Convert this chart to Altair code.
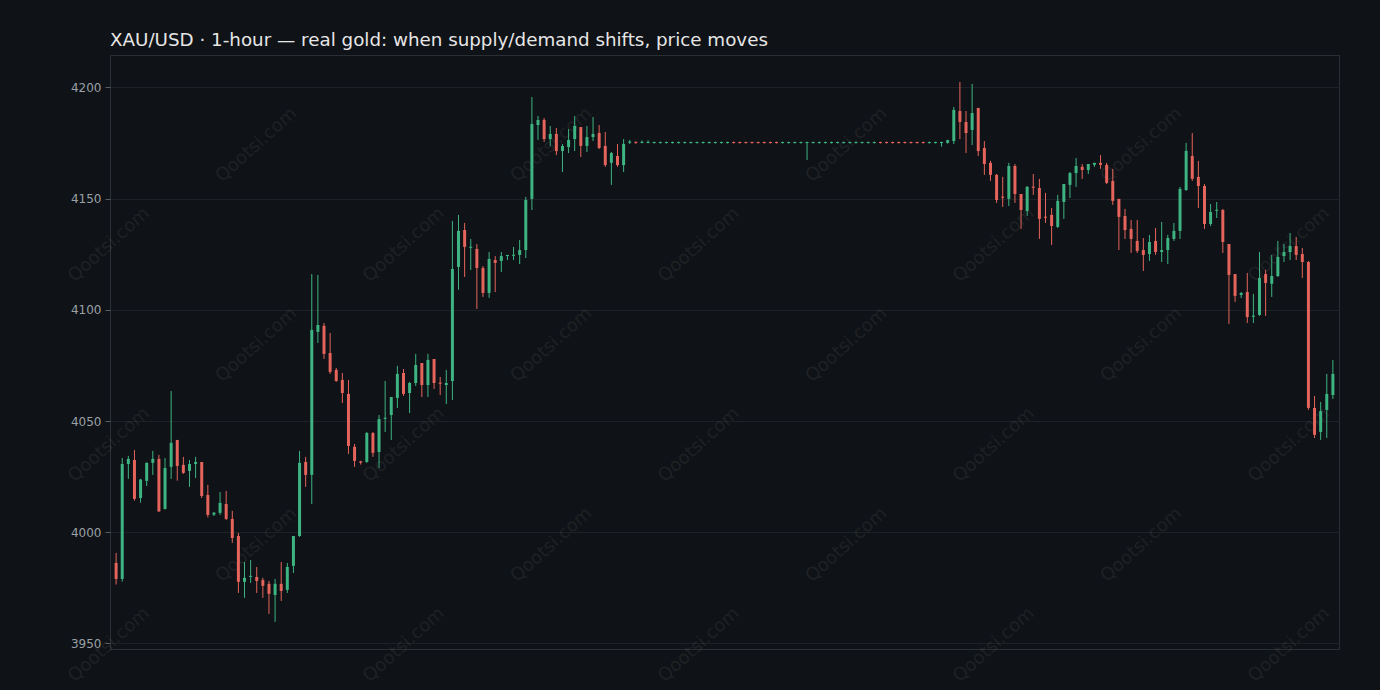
import altair as alt
import pandas as pd
import numpy as np

TITLE = "XAU/USD · 1-hour — real gold: when supply/demand shifts, price moves"
Y_TICKS = [3950, 4000, 4050, 4100, 4150, 4200]
WATERMARK = "Qootsi.com"

opens = [
    3986.2, 3979.0, 4030.7, 4032.5, 4015.4, 4023.1, 4031.2, 4033.0, 4010.5, 4029.4,
    4041.5, 4030.3, 4027.6, 4030.7, 4031.6, 4016.8, 4007.9, 4008.7, 4012.7, 4006.0,
    3998.3, 3977.7, 3980.0, 3979.9, 3978.5, 3976.8, 3971.8, 3976.8, 3974.1, 3984.9,
    3998.3, 4031.6, 4025.8, 4090.1, 4092.8, 4080.6, 4073.0, 4068.5, 4062.2, 4038.4,
    4031.9, 4031.6, 4044.6, 4036.1, 4051.1, 4052.7, 4060.4, 4071.6, 4062.6, 4067.1,
    4076.1, 4066.2, 4077.9, 4067.3, 4066.2, 4068.0, 4119.3, 4135.9, 4128.0, 4127.4,
    4118.8, 4107.6, 4122.4, 4122.0, 4124.4, 4124.4, 4124.7, 4126.9, 4149.9, 4183.1,
    4185.4, 4176.8, 4179.1, 4171.4, 4173.2, 4176.8, 4182.2, 4173.7, 4177.7, 4179.5,
    4173.7, 4166.1, 4169.2, 4165.1, 4175.3, 4175.5, 4175.1, 4175.1, 4175.1, 4175.1,
    4175.1, 4175.1, 4175.1, 4175.1, 4175.1, 4175.1, 4175.1, 4175.1, 4175.1, 4175.1,
    4175.1, 4175.4, 4175.4, 4175.4, 4175.4, 4175.4, 4175.4, 4175.4, 4175.4, 4175.1,
    4175.1, 4175.1, 4175.1, 4175.1, 4175.1, 4175.1, 4175.1, 4175.1, 4175.1, 4175.1,
    4175.1, 4175.1, 4175.1, 4175.1, 4175.1, 4175.4, 4175.4, 4175.4, 4175.4, 4175.4,
    4175.4, 4175.4, 4175.4, 4175.1, 4175.1, 4175.1, 4175.1, 4175.9, 4189.4, 4184.5,
    4180.9, 4190.8, 4172.8, 4166.1, 4160.7, 4150.8, 4149.9, 4164.7, 4152.1, 4144.5,
    4155.3, 4154.8, 4141.8, 4142.7, 4137.3, 4148.5, 4156.2, 4161.5, 4164.3, 4162.9,
    4165.2, 4166.1, 4165.2, 4158.0, 4149.9, 4142.2, 4136.4, 4131.0, 4126.9, 4125.1,
    4131.0, 4126.0, 4126.9, 4131.9, 4135.5, 4153.9, 4169.2, 4159.8, 4155.7, 4138.6,
    4144.6, 4144.9, 4129.6, 4116.1, 4106.7, 4108.0, 4097.0, 4097.7, 4116.1, 4111.7,
    4115.2, 4124.2, 4126.0, 4128.7, 4125.1, 4121.5, 4055.9, 4045.1, 4055.0, 4061.7,
]

highs = [
    3990.7, 4033.4, 4034.3, 4037.0, 4024.0, 4031.4, 4036.6, 4034.8, 4033.4, 4063.5,
    4041.5, 4033.9, 4032.5, 4033.9, 4031.6, 4021.3, 4009.1, 4018.1, 4018.6, 4009.6,
    3999.7, 3986.6, 3987.5, 3984.4, 3979.5, 3978.1, 3979.0, 3986.6, 3986.2, 3998.3,
    4036.6, 4033.9, 4116.1, 4115.7, 4094.1, 4089.6, 4073.9, 4071.6, 4068.5, 4039.7,
    4032.1, 4045.1, 4045.1, 4052.7, 4068.0, 4060.8, 4074.8, 4073.4, 4067.6, 4080.2,
    4076.1, 4080.2, 4077.9, 4069.8, 4073.0, 4140.0, 4142.7, 4139.1, 4131.9, 4129.6,
    4119.7, 4126.0, 4124.2, 4126.0, 4124.7, 4128.3, 4131.4, 4150.8, 4195.7, 4187.2,
    4186.3, 4182.7, 4181.8, 4174.6, 4181.3, 4187.2, 4182.2, 4182.7, 4186.7, 4183.1,
    4180.0, 4171.0, 4174.6, 4176.8, 4176.4, 4175.6, 4176.2, 4176.2, 4175.6, 4175.6,
    4175.6, 4175.6, 4175.6, 4175.6, 4175.6, 4175.6, 4175.6, 4175.6, 4175.6, 4175.6,
    4175.6, 4175.6, 4175.6, 4175.6, 4175.6, 4175.6, 4175.6, 4175.6, 4175.6, 4175.6,
    4175.6, 4175.6, 4175.6, 4175.6, 4175.6, 4175.6, 4175.6, 4175.6, 4175.6, 4175.6,
    4175.6, 4175.6, 4175.6, 4175.6, 4175.6, 4175.6, 4175.6, 4175.6, 4175.6, 4175.6,
    4175.6, 4175.6, 4175.6, 4175.6, 4175.6, 4175.6, 4176.5, 4191.2, 4202.5, 4189.4,
    4201.6, 4190.8, 4175.9, 4167.0, 4161.1, 4159.8, 4166.1, 4165.6, 4152.1, 4155.7,
    4161.1, 4158.9, 4152.6, 4145.8, 4151.7, 4156.6, 4162.0, 4168.3, 4165.6, 4165.6,
    4166.1, 4169.6, 4166.1, 4163.4, 4149.9, 4145.4, 4140.4, 4140.4, 4132.3, 4133.7,
    4136.8, 4139.5, 4133.7, 4139.1, 4155.3, 4175.1, 4179.5, 4167.0, 4156.6, 4147.6,
    4148.5, 4145.4, 4129.6, 4116.1, 4108.0, 4116.6, 4107.2, 4126.0, 4117.9, 4124.7,
    4131.0, 4129.6, 4134.6, 4132.8, 4127.8, 4122.0, 4061.3, 4058.6, 4071.2, 4077.5,
]

lows = [
    3976.5, 3977.8, 4024.0, 4014.2, 4013.3, 4020.8, 4025.8, 4009.1, 4010.2, 4024.0,
    4023.2, 4026.2, 4020.4, 4024.4, 4015.4, 4006.7, 4007.3, 4007.8, 4005.5, 3995.2,
    3972.7, 3970.5, 3977.2, 3972.7, 3970.5, 3963.3, 3959.7, 3969.1, 3972.7, 3981.7,
    3997.9, 4020.4, 4012.7, 4085.1, 4077.9, 4071.2, 4067.6, 4058.1, 4035.2, 4029.4,
    4030.4, 4031.2, 4033.9, 4028.9, 4045.1, 4041.5, 4055.9, 4061.3, 4053.6, 4065.8,
    4060.8, 4060.8, 4064.4, 4061.7, 4057.7, 4059.5, 4109.0, 4114.8, 4117.9, 4100.4,
    4105.8, 4105.4, 4108.0, 4117.0, 4122.4, 4122.4, 4120.6, 4123.3, 4144.9, 4176.4,
    4175.5, 4173.7, 4169.6, 4162.0, 4170.5, 4171.4, 4168.7, 4171.0, 4175.9, 4172.3,
    4164.3, 4156.2, 4164.3, 4162.0, 4174.6, 4174.6, 4174.9, 4174.9, 4174.8, 4174.8,
    4174.8, 4174.8, 4174.8, 4174.8, 4174.8, 4174.8, 4174.8, 4174.8, 4174.8, 4174.8,
    4174.8, 4174.8, 4174.8, 4174.8, 4174.8, 4174.8, 4174.8, 4174.8, 4174.8, 4174.8,
    4174.8, 4174.8, 4174.8, 4167.4, 4174.8, 4174.8, 4174.8, 4174.8, 4174.8, 4174.8,
    4174.8, 4174.8, 4174.8, 4174.8, 4174.8, 4174.8, 4174.8, 4174.8, 4174.8, 4174.8,
    4174.8, 4174.8, 4174.8, 4174.8, 4174.8, 4173.4, 4174.7, 4174.6, 4176.8, 4170.5,
    4174.1, 4169.2, 4160.7, 4158.0, 4148.1, 4146.3, 4146.7, 4148.1, 4136.4, 4142.2,
    4151.7, 4131.9, 4139.1, 4129.2, 4136.8, 4140.9, 4150.3, 4155.3, 4158.9, 4161.1,
    4164.3, 4163.4, 4156.6, 4147.2, 4126.9, 4131.9, 4125.6, 4125.6, 4117.5, 4122.0,
    4124.7, 4121.5, 4120.6, 4131.0, 4131.9, 4153.5, 4158.0, 4145.8, 4136.4, 4137.7,
    4141.3, 4125.6, 4093.7, 4103.6, 4105.3, 4094.1, 4094.1, 4097.3, 4097.3, 4105.8,
    4114.8, 4121.5, 4122.4, 4122.4, 4114.3, 4055.0, 4042.4, 4041.5, 4042.4, 4059.9,
]

closes = [
    3979.0, 4030.7, 4033.0, 4015.0, 4023.7, 4031.2, 4033.0, 4009.4, 4028.9, 4040.2,
    4029.8, 4026.7, 4030.7, 4031.6, 4016.3, 4007.8, 4008.8, 4013.2, 4006.0, 3997.4,
    3977.7, 3979.5, 3980.3, 3978.1, 3975.9, 3972.3, 3976.8, 3973.6, 3984.4, 3998.3,
    4031.2, 4025.8, 4091.0, 4093.2, 4080.2, 4072.1, 4068.0, 4062.6, 4038.8, 4032.1,
    4031.3, 4044.6, 4035.7, 4050.9, 4051.4, 4060.8, 4071.2, 4062.2, 4067.1, 4075.2,
    4066.2, 4077.5, 4067.1, 4066.8, 4067.1, 4118.4, 4135.5, 4128.3, 4128.3, 4118.8,
    4107.6, 4122.9, 4121.1, 4124.2, 4124.5, 4124.7, 4126.9, 4149.4, 4183.6, 4185.4,
    4176.8, 4179.1, 4171.4, 4173.7, 4176.4, 4182.7, 4173.7, 4177.7, 4179.1, 4172.8,
    4165.1, 4170.5, 4165.1, 4174.6, 4175.5, 4175.2, 4175.5, 4175.5, 4175.4, 4175.4,
    4175.4, 4175.4, 4175.4, 4175.4, 4175.4, 4175.4, 4175.4, 4175.4, 4175.4, 4175.4,
    4175.4, 4175.1, 4175.1, 4175.1, 4175.1, 4175.1, 4175.1, 4175.1, 4175.1, 4175.4,
    4175.4, 4175.4, 4175.4, 4175.4, 4175.4, 4175.4, 4175.4, 4175.4, 4175.4, 4175.4,
    4175.4, 4175.4, 4175.4, 4175.4, 4175.4, 4175.1, 4175.1, 4175.1, 4175.1, 4175.1,
    4175.1, 4175.1, 4175.1, 4175.4, 4175.4, 4175.4, 4176.3, 4189.9, 4184.5, 4179.5,
    4188.5, 4171.4, 4165.6, 4160.7, 4149.4, 4150.5, 4164.7, 4152.1, 4144.9, 4155.3,
    4155.0, 4140.9, 4141.5, 4137.7, 4149.0, 4156.6, 4161.5, 4164.7, 4162.9, 4165.6,
    4166.1, 4165.2, 4157.1, 4149.0, 4141.8, 4135.9, 4131.9, 4126.5, 4124.7, 4130.5,
    4126.0, 4126.9, 4132.3, 4135.5, 4154.4, 4171.5, 4158.9, 4155.7, 4138.6, 4144.0,
    4144.9, 4130.5, 4115.7, 4106.3, 4107.6, 4096.8, 4097.3, 4114.3, 4112.1, 4115.2,
    4123.8, 4126.0, 4128.7, 4124.7, 4121.5, 4055.9, 4043.8, 4054.5, 4062.2, 4071.2,
]

GREEN = "#3db482"
RED = "#e5645b"
BG = "#0f1216"

n = len(opens)
df = pd.DataFrame({"i": np.arange(n), "open": opens, "high": highs, "low": lows, "close": closes})
df["dir"] = np.where(df["close"] >= df["open"], "up", "down")
mid = (df["open"] + df["close"]) / 2
half = np.maximum((df["open"] - df["close"]).abs() / 2, 0.25)
df["b0"] = mid - half
df["b1"] = mid + half

W, H = 1229, 594
PAD_L, PAD_T = 110, 55

xs = alt.Scale(domain=[-1, n], nice=False, zero=False, padding=0)
ys = alt.Scale(domain=[3947.5, 4214.6], nice=False, zero=False, padding=0)
col = alt.Color("dir:N", scale=alt.Scale(domain=["up", "down"], range=[GREEN, RED]), legend=None)

# decorative watermark grid (pixel positions on the canvas)
wm_rows = []
for k in range(9):
    cx = 109 + 147.5 * k
    for cy in ([245, 445, 645] if k % 2 == 0 else [145, 345, 545]):
        wm_rows.append({"px": cx - PAD_L, "py": cy - PAD_T, "t": WATERMARK})
wm = alt.Chart(pd.DataFrame(wm_rows)).mark_text(
    angle=318, fontSize=18, font="DejaVu Sans", color="#ffffff", opacity=0.06,
    align="center", baseline="middle",
).encode(
    x=alt.X("px:Q", scale=None, axis=None),
    y=alt.Y("py:Q", scale=None, axis=None),
    text="t:N",
)

wicks = alt.Chart(df).mark_rule(strokeWidth=1).encode(
    x=alt.X("i:Q", scale=xs, axis=None),
    y=alt.Y("low:Q", scale=ys, axis=alt.Axis(
        values=Y_TICKS, format="d", title=None, grid=True, gridColor="#1d2127", gridWidth=1,
        domain=False, ticks=True, tickColor="#5a5f66", tickSize=5,
        labelColor="#9aa0a6", labelFontSize=12, labelFont="DejaVu Sans", labelPadding=4,
        orient="left",
    )),
    y2="high:Q",
    color=col,
)
bodies = alt.Chart(df).mark_bar(size=3).encode(
    x=alt.X("i:Q", scale=xs, axis=None),
    y=alt.Y("b0:Q", scale=ys, axis=None),
    y2="b1:Q",
    color=col,
)

chart = alt.layer(wm, wicks, bodies).resolve_scale(
    x="independent", y="independent"
).resolve_axis(y="independent").properties(
    width=W, height=H,
    title=alt.TitleParams(TITLE, anchor="start", frame="group", color="#e6e6e6", fontSize=18.3,
                          fontWeight="normal", font="DejaVu Sans", offset=5),
    background=BG,
    padding={"left": PAD_L, "top": PAD_T, "right": 1380 - PAD_L - W, "bottom": 690 - PAD_T - H},
    autosize=alt.AutoSizeParams(type="none"),
).configure_view(stroke="#2a2e35", strokeWidth=1)

chart.save("out.html", embed_options={"renderer": "svg", "actions": False})
